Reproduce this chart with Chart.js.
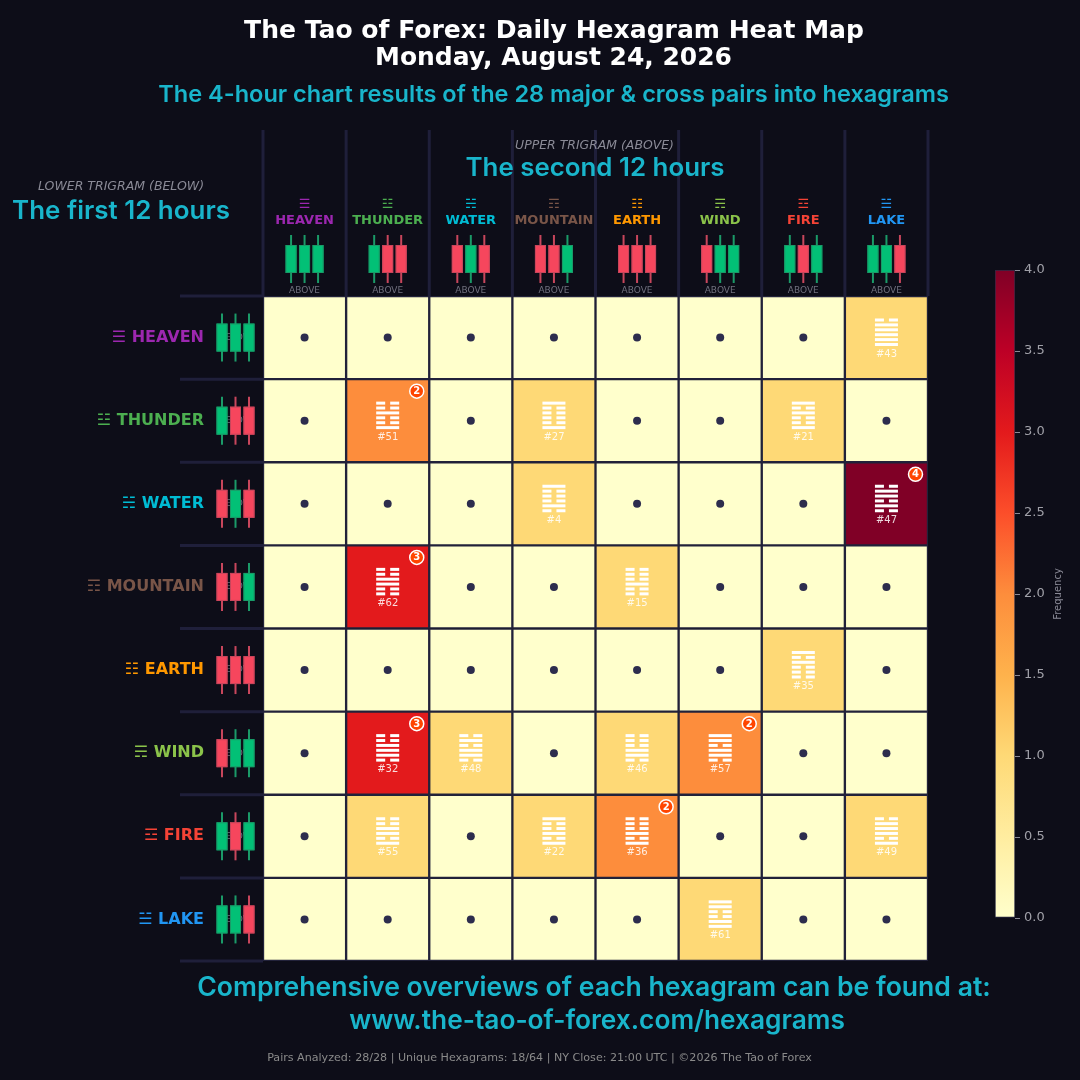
<!DOCTYPE html>
<html><head><meta charset="utf-8">
<script src="https://cdn.jsdelivr.net/npm/chart.js@4.4.1/dist/chart.umd.min.js"></script>
<style>
html,body{margin:0;padding:0;background:#0d0d18;width:1080px;height:1080px;overflow:hidden}
#wrap{position:relative;width:1080px;height:1080px}
#main{position:absolute;left:0;top:0}
#cb{position:absolute;left:960px;top:240px}
</style></head><body>
<div id="wrap"><canvas id="main" width="1080" height="1080"></canvas><canvas id="cb" width="120" height="700"></canvas></div>
<script>
// ---------------- DATA ----------------
const trigramNames = ['HEAVEN','THUNDER','WATER','MOUNTAIN','EARTH','WIND','FIRE','LAKE'];
const trigramSymbols = ['☰','☳','☵','☶','☷','☴','☲','☱'];
// lines bottom -> top, 1 = yang (bullish candle), 0 = yin (bearish candle)
const trigramLines = ['111','100','010','001','000','011','101','110'];
const trigramColors = ['#9c27b0','#4caf50','#00bcd4','#795548','#ff9800','#8bc34a','#f44336','#2196f3'];
// rows = lower trigram (first 12h), cols = upper trigram (second 12h)
const countHeaven   = [0,0,0,0,0,0,0,1];
const countThunder  = [0,2,0,1,0,0,1,0];
const countWater    = [0,0,0,1,0,0,0,4];
const countMountain = [0,3,0,0,1,0,0,0];
const countEarth    = [0,0,0,0,0,0,1,0];
const countWind     = [0,3,1,0,1,2,0,0];
const countFire     = [0,1,0,1,2,0,0,1];
const countLake     = [0,0,0,0,0,1,0,0];
const counts = [countHeaven,countThunder,countWater,countMountain,countEarth,countWind,countFire,countLake];
// King Wen hexagram numbers [lower][upper]
const kingWen = [
  [1,34,5,26,11,9,14,43],
  [25,51,3,27,24,42,21,17],
  [6,40,29,4,7,59,64,47],
  [33,62,39,52,15,53,56,31],
  [12,16,8,23,2,20,35,45],
  [44,32,48,18,46,57,50,28],
  [13,55,63,22,36,37,30,49],
  [10,54,60,41,19,61,38,58]
];
const colorbarTicks = [0,0.5,1,1.5,2,2.5,3,3.5,4];
const maxCount = 4;

// ---------------- STYLE ----------------
const BG = '#0d0d18';
const SEP = '#1f1f3a';
const CYAN = '#19b5cb';
const GREEN = '#02c076', RED = '#f6465d';
const ylorrd = ['#ffffcc','#ffeda0','#fed976','#feb24c','#fd8d3c','#fc4e2a','#e31a1c','#bd0026','#800026'];
function hexToRgb(h){return [parseInt(h.slice(1,3),16),parseInt(h.slice(3,5),16),parseInt(h.slice(5,7),16)];}
function cmap(t){
  t=Math.max(0,Math.min(1,t)); const p=t*(ylorrd.length-1); const i=Math.min(Math.floor(p),ylorrd.length-2); const f=p-i;
  const a=hexToRgb(ylorrd[i]), b=hexToRgb(ylorrd[i+1]);
  return `rgb(${Math.round(a[0]+(b[0]-a[0])*f)},${Math.round(a[1]+(b[1]-a[1])*f)},${Math.round(a[2]+(b[2]-a[2])*f)})`;
}
function fitText(ctx,s,x,y,w,font,color,align){
  ctx.font=font.replace('SZ','100px'); const m=ctx.measureText(s).width;
  ctx.font=font.replace('SZ',(100*w/m).toFixed(2)+'px');
  ctx.fillStyle=color; ctx.textAlign=align||'center'; ctx.textBaseline='middle'; ctx.fillText(s,x,y);
}
function text(ctx,s,x,y,font,color,align){
  ctx.font=font; ctx.fillStyle=color; ctx.textAlign=align||'center'; ctx.textBaseline='middle'; ctx.fillText(s,x,y);
}
function candle(ctx,cx,cy,bull){
  const c=bull?GREEN:RED, d=bull?'#1b9a68':'#c8465c';
  ctx.strokeStyle=d; ctx.lineWidth=2;
  ctx.beginPath(); ctx.moveTo(cx,cy-24); ctx.lineTo(cx,cy+24); ctx.stroke();
  ctx.fillStyle=c; ctx.fillRect(cx-5.5,cy-14,11,28);
  ctx.strokeStyle=d; ctx.lineWidth=1; ctx.strokeRect(cx-5,cy-13.5,10,27);
}
function candles(ctx,cx,cy,t){
  const l=trigramLines[t];
  [-13.5,0,13.5].forEach((dx,i)=>candle(ctx,cx+dx,cy,l[i]==='1'));
}
function hexagram(ctx,cx,top,lower,upper){
  const lines=trigramLines[lower]+trigramLines[upper]; // bottom->top
  const w=23,h=3,pitch=4.9,gap=5;
  ctx.fillStyle='#ffffff';
  for(let i=0;i<6;i++){
    const bit=lines[5-i]; const y=top+i*pitch;
    if(bit==='1') ctx.fillRect(cx-w/2,y,w,h);
    else { const s=(w-gap)/2; ctx.fillRect(cx-w/2,y,s,h); ctx.fillRect(cx+gap/2,y,s,h); }
  }
}

const decor = {
  id:'decor',
  beforeDraw(chart){
    const ctx=chart.ctx; ctx.save(); ctx.fillStyle=BG; ctx.fillRect(0,0,chart.width,chart.height); ctx.restore();
  },
  afterDatasetsDraw(chart){
    const ctx=chart.ctx, xs=chart.scales.x, ys=chart.scales.y, a=chart.chartArea;
    const cw=(a.right-a.left)/8;
    ctx.save();
    for(let r=0;r<8;r++){
      const top=ys.getPixelForValue(r), cy=ys.getPixelForValue(r+0.5);
      for(let c=0;c<8;c++){
        const cx=xs.getPixelForValue(c), v=counts[r][c];
        if(v===0){
          ctx.fillStyle='#2d2d4d'; ctx.beginPath(); ctx.arc(cx,cy,4,0,Math.PI*2); ctx.fill();
        } else {
          hexagram(ctx,cx,top+22.5,r,c);
          text(ctx,'#'+kingWen[r][c],cx,top+58,'10px "DejaVu Sans"','rgba(255,255,255,0.85)');
          if(v>=2){
            const bx=cx+cw/2-12.5, by=top+12;
            ctx.beginPath(); ctx.arc(bx,by,7,0,Math.PI*2); ctx.fillStyle='#ff4500'; ctx.fill();
            ctx.lineWidth=1.5; ctx.strokeStyle='#ffffff'; ctx.stroke();
            text(ctx,String(v),bx,by+0.5,'bold 10px "DejaVu Sans"','#ffffff');
          }
        }
      }
    }
    ctx.restore();
  },
  afterDraw(chart){
    const ctx=chart.ctx, xs=chart.scales.x, ys=chart.scales.y, a=chart.chartArea;
    const cw=(a.right-a.left)/8;
    ctx.save();
    // separators
    ctx.strokeStyle=SEP; ctx.lineWidth=3;
    for(let c=0;c<=8;c++){ const x=a.left+c*cw; ctx.beginPath(); ctx.moveTo(x,130); ctx.lineTo(x,a.top); ctx.stroke(); }
    for(let r=0;r<=8;r++){ const y=ys.getPixelForValue(r); ctx.beginPath(); ctx.moveTo(180,y); ctx.lineTo(a.left,y); ctx.stroke(); }
    // titles
    fitText(ctx,'The Tao of Forex: Daily Hexagram Heat Map',554,31,620,'bold SZ "DejaVu Sans"','#ffffff');
    fitText(ctx,'Monday, August 24, 2026',553.5,59,357,'bold SZ "DejaVu Sans"','#ffffff');
    fitText(ctx,'The 4-hour chart results of the 28 major & cross pairs into hexagrams',553.5,95,791,'600 SZ Inter',CYAN);
    fitText(ctx,'UPPER TRIGRAM (ABOVE)',594.5,146,159,'italic SZ "DejaVu Sans"','#8a8a96');
    fitText(ctx,'The second 12 hours',595,168,259,'600 SZ Inter',CYAN);
    fitText(ctx,'LOWER TRIGRAM (BELOW)',121,187,166,'italic SZ "DejaVu Sans"','#8a8a96');
    fitText(ctx,'The first 12 hours',121,211,218,'600 SZ Inter',CYAN);
    // column headers
    for(let c=0;c<8;c++){
      const cx=xs.getPixelForValue(c);
      text(ctx,trigramSymbols[c],cx,205,'13px "DejaVu Sans"',trigramColors[c]);
      text(ctx,trigramNames[c],cx,221,'bold 13px "DejaVu Sans"',trigramColors[c]);
      candles(ctx,cx,259,c);
      text(ctx,'ABOVE',cx,291,'9px "DejaVu Sans"','#70707e');
    }
    // row headers
    for(let r=0;r<8;r++){
      const cy=ys.getPixelForValue(r+0.5);
      text(ctx,trigramSymbols[r]+' '+trigramNames[r],204,cy,'bold 16px "DejaVu Sans"',trigramColors[r],'right');
      text(ctx,'BELOW',235.5,cy,'9px "DejaVu Sans"','#70707e');
      candles(ctx,235.5,cy,r);
    }
    // footer
    fitText(ctx,'Comprehensive overviews of each hexagram can be found at:',594,988,794,'600 SZ Inter',CYAN);
    fitText(ctx,'www.the-tao-of-forex.com/hexagrams',597,1021,496,'600 SZ Inter',CYAN);
    fitText(ctx,'Pairs Analyzed: 28/28 | Unique Hexagrams: 18/64 | NY Close: 21:00 UTC | ©2026 The Tao of Forex',539.5,1058,545,'SZ "DejaVu Sans"','#8a8a8a');
    ctx.restore();
  }
};

new Chart(document.getElementById('main'),{
  type:'bar',
  data:{
    labels:trigramNames,
    datasets:trigramNames.map((name,r)=>({
      label:name,
      data:counts[r].map(()=>[r,r+1]),
      backgroundColor:counts[r].map(v=>cmap(v/maxCount)),
      borderColor:'#22223a', borderWidth:1.5, borderSkipped:false,
      grouped:false, barPercentage:1, categoryPercentage:1
    }))
  },
  options:{
    responsive:false, animation:false,
    layout:{padding:{left:263,right:152,top:296,bottom:119}},
    plugins:{legend:{display:false},tooltip:{enabled:false}},
    scales:{
      x:{type:'category',display:false,offset:true},
      y:{type:'linear',display:false,min:0,max:8,reverse:true}
    }
  },
  plugins:[decor]
});

// colorbar
const cbLabel = {
  id:'cbLabel',
  afterDraw(chart){
    const ctx=chart.ctx; ctx.save();
    ctx.translate(98,354); ctx.rotate(-Math.PI/2);
    text(ctx,'Frequency',0,0,'10px "DejaVu Sans"','#8a8a96');
    ctx.restore();
  }
};
new Chart(document.getElementById('cb'),{
  type:'bar',
  data:{labels:[''],datasets:[{
    data:[[colorbarTicks[0],colorbarTicks[colorbarTicks.length-1]]],
    backgroundColor(c){
      const a=c.chart.chartArea; if(!a) return ylorrd[0];
      const g=c.chart.ctx.createLinearGradient(0,a.bottom,0,a.top);
      ylorrd.forEach((s,i)=>g.addColorStop(i/(ylorrd.length-1),s)); return g;
    },
    borderColor:'#2a2a44', borderWidth:1, borderSkipped:false,
    barPercentage:1, categoryPercentage:1
  }]},
  options:{
    responsive:false, animation:false,
    layout:{padding:{left:35,right:25,top:30,bottom:22}},
    plugins:{legend:{display:false},tooltip:{enabled:false}},
    scales:{
      x:{display:false},
      y:{position:'right',min:0,max:maxCount,
        afterBuildTicks(s){ s.ticks=colorbarTicks.map(v=>({value:v})); },
        afterFit(s){ s.width=40; },
        ticks:{color:'#a0a0a8',font:{family:'DejaVu Sans',size:13},padding:4,callback:v=>Number(v).toFixed(1)},
        grid:{drawOnChartArea:false,drawTicks:true,tickLength:5,color:'#8a8a96'},
        border:{display:false}
      }
    }
  },
  plugins:[cbLabel]
});
</script></body></html>
